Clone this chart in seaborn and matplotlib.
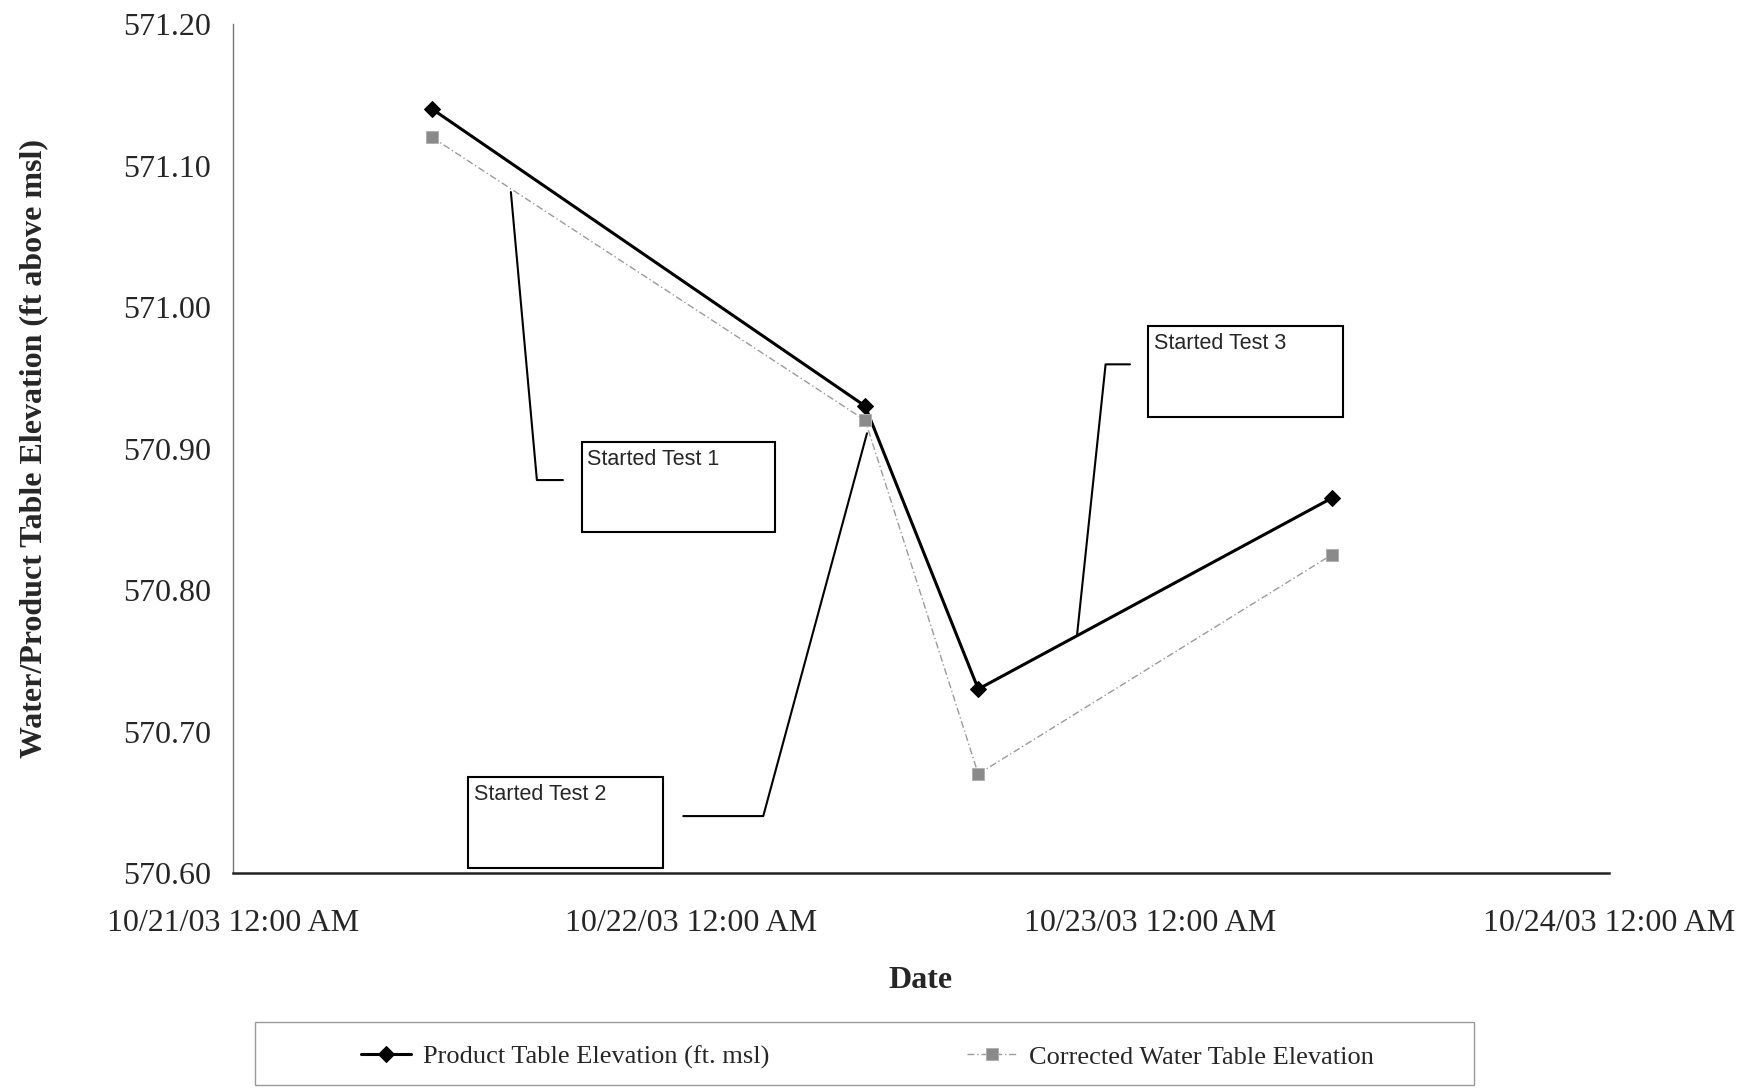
import pandas as pd
import matplotlib
matplotlib.use("Agg")
import matplotlib.pyplot as plt
import matplotlib.dates as mdates
from matplotlib.patches import Rectangle
from matplotlib.ticker import FormatStrFormatter, MultipleLocator
import seaborn as sns

# ── data ────────────────────────────────────────────────────────────────
times = pd.to_datetime([
    "2003-10-21 10:25", "2003-10-22 09:05",
    "2003-10-22 15:00", "2003-10-23 09:30",
])
product_elev = [571.14, 570.93, 570.73, 570.865]
corrected_elev = [571.12, 570.92, 570.67, 570.825]

# callouts: label, box (x0, y0, x1, y1) and leader polyline, in axes fraction
callout_labels = ["Started Test 1", "Started Test 2", "Started Test 3"]
callout_boxes = [
    (0.2534, 0.4016, 0.3939, 0.5080),
    (0.1710, 0.0055, 0.3127, 0.1127),
    (0.6652, 0.5367, 0.8065, 0.6446),
]
callout_leaders = [
    ([0.2398, 0.2209, 0.2020], [0.4629, 0.4629, 0.8021]),
    ([0.3273, 0.3854, 0.4608], [0.0671, 0.0671, 0.5180]),
    ([0.6519, 0.6342, 0.6135], [0.5992, 0.5992, 0.2813]),
]

df = pd.DataFrame({"time": times, "product": product_elev,
                   "corrected": corrected_elev})

sns.set_style("white")
plt.rcParams["font.family"] = ["Liberation Serif", "DejaVu Serif"]

fig = plt.figure(figsize=(17.54, 10.89), dpi=100)
ax = fig.add_axes([0.1328, 0.1983, 0.7845, 0.7796])

sns.lineplot(data=df, x="time", y="product", ax=ax, color="black",
             linewidth=2.2, marker="D", markersize=8.5,
             markeredgecolor="black", label="Product Table Elevation (ft. msl)")
sns.lineplot(data=df, x="time", y="corrected", ax=ax, color="#9a9a9a",
             linewidth=1.0, linestyle=(0, (5, 2, 1, 2)), marker="s",
             markersize=8, markerfacecolor="#8a8a8a",
             markeredgecolor="#b0b0b0",
             label="Corrected Water Table Elevation")

ax.set_xlim(pd.Timestamp("2003-10-21"), pd.Timestamp("2003-10-24"))
ax.set_ylim(570.60, 571.20)
ax.xaxis.set_major_locator(mdates.DayLocator())
ax.xaxis.set_major_formatter(mdates.DateFormatter("%m/%d/%y %I:%M %p"))
ax.yaxis.set_major_locator(MultipleLocator(0.1))
ax.yaxis.set_major_formatter(FormatStrFormatter("%.2f"))

ax.tick_params(axis="x", direction="out", length=7, width=0.8,
               color="#555555", labelsize=23, pad=19)
ax.tick_params(axis="y", direction="out", length=3.6, width=0.8,
               color="#555555", labelsize=23, pad=12)

for side in ["top", "right"]:
    ax.spines[side].set_visible(False)
ax.spines["left"].set_color("#777777")
ax.spines["left"].set_linewidth(1.0)
ax.spines["bottom"].set_color("#222222")
ax.spines["bottom"].set_linewidth(1.8)

ax.set_xlabel("Date", fontsize=23, fontweight="bold")
ax.set_ylabel("Water/Product Table Elevation (ft above msl)", fontsize=23,
              fontweight="bold")
ax.xaxis.set_label_coords(0.5, -0.109)
ax.yaxis.set_label_coords(-0.134, 0.5)

# callout boxes with bent leader lines
for label, (x0, y0, x1, y1), (lx, ly) in zip(callout_labels, callout_boxes,
                                             callout_leaders):
    ax.add_patch(Rectangle((x0, y0), x1 - x0, y1 - y0, transform=ax.transAxes,
                           facecolor="white", edgecolor="black",
                           linewidth=1.5, clip_on=False, zorder=4))
    ax.text(x0 + 0.004, y1 - 0.008, label, transform=ax.transAxes,
            ha="left", va="top", fontsize=15.5,
            family=["Liberation Sans", "DejaVu Sans"], zorder=5)
    ax.plot(lx, ly, transform=ax.transAxes, color="black", linewidth=1.5,
            clip_on=False, zorder=3)

# legend at the bottom, in a separate square frame
handles, labels = ax.get_legend_handles_labels()
ax.get_legend().remove()
fig.legend(handles, labels, loc="center", bbox_to_anchor=(0.4946, 0.0294),
           ncol=2, frameon=False, fontsize=19, handlelength=1.9,
           handletextpad=0.45, columnspacing=7.5)
fig.add_artist(Rectangle((0.1454, 0.0037), 0.695, 0.0579,
                         transform=fig.transFigure, fill=False,
                         edgecolor="#999999", linewidth=1.0))

fig.savefig("out.png", dpi=100)
